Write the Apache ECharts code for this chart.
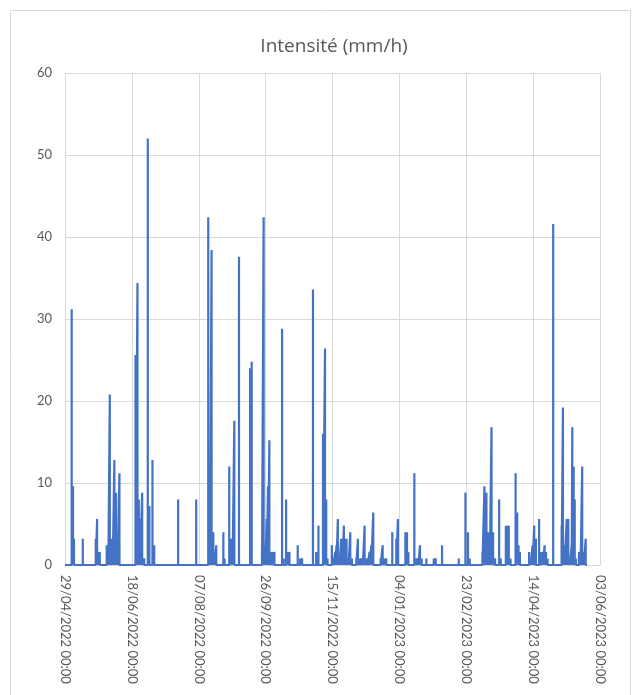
<!DOCTYPE html>
<html><head><meta charset="utf-8">
<script src="https://cdn.jsdelivr.net/npm/echarts/dist/echarts.min.js"></script>
<style>html,body{margin:0;padding:0;background:#fff}#c{width:637px;height:695px}</style>
</head><body><div id="c"></div>
<script>
// Chart title
const chartTitle = 'Intensité (mm/h)';
// Time origin of the x axis (29/04/2022 00:00); x values are days since this date
const originUTC = Date.UTC(2022, 3, 29);
const axisSpanDays = 400;      // 29/04/2022 -> 03/06/2023
const tickStepDays = 50;
const recordStartDay = 0;
const recordEndDay = 390.3;
// Rain events: day offset and intensity (mm/h)
const eventDay = [
  5.0, 6.0, 6.7, 13.3, 23.0, 24.0, 25.0, 26.0, 31.2, 32.4, 33.5, 34.5, 35.7, 36.9, 38.2, 39.5, 40.7,
  52.7, 54.2, 55.2, 56.2, 57.7, 59.2, 61.9, 63.1, 65.4, 66.7, 84.6, 98.1,
  107.1, 108.4, 109.6, 110.9, 111.8, 113.1, 118.4, 119.3, 122.8, 124.1, 125.3, 126.6, 130.1,
  138.4, 139.6, 147.3, 148.5, 149.8, 150.8, 151.8, 152.8, 154.1, 155.3, 156.6,
  162.3, 163.5, 165.3, 166.5, 167.8, 174.0, 175.8, 177.3,
  185.4, 187.8, 189.5, 192.9, 194.4, 195.3, 196.3, 199.5, 200.7, 202.0, 203.0, 204.0, 205.2,
  206.5, 207.5, 208.5, 209.5, 210.5, 212.0, 213.3, 214.5, 217.8, 219.0, 220.2, 221.7, 222.7,
  224.0, 225.2, 226.4, 227.7, 229.0, 230.5, 236.0, 237.5, 238.7, 240.2, 244.7, 247.7, 248.9,
  254.5, 255.7, 256.7, 261.2, 262.7, 264.2, 265.4, 266.7, 270.2, 275.7, 277.2, 281.9, 294.4,
  299.4, 301.3, 302.6, 312.1, 313.6, 315.1, 316.3, 317.6, 318.9, 320.1, 321.6, 324.6, 325.8,
  329.6, 330.6, 331.8, 333.1, 336.9, 338.1, 339.1, 340.1, 347.0, 348.3, 349.6, 350.8, 352.1,
  354.5, 355.8, 357.1, 358.6, 359.6, 360.8, 365.0, 371.3, 372.3, 373.6, 375.1, 376.3, 377.5,
  378.8, 379.3, 380.3, 381.1, 382.0, 384.3, 385.5, 386.7, 388.0, 389.3
];
const eventValue = [
  31.2, 9.6, 3.2, 3.2, 3.2, 5.6, 1.6, 1.6, 2.4, 2.4, 20.8, 3.2, 0.8, 12.8, 8.8, 3.2, 11.2,
  25.6, 34.4, 8.0, 5.6, 8.8, 0.8, 52.0, 7.2, 12.8, 2.4, 8.0, 8.0,
  42.4, 0.8, 38.4, 4.0, 1.6, 2.4, 4.0, 0.8, 12.0, 3.2, 0.8, 17.6, 37.6,
  24.0, 24.8, 2.4, 42.4, 2.4, 5.6, 9.6, 15.2, 1.6, 1.6, 1.6,
  28.8, 0.8, 8.0, 1.6, 1.6, 2.4, 0.8, 0.8,
  33.6, 1.6, 4.8, 16.0, 26.4, 8.0, 0.8, 2.4, 0.8, 1.6, 2.4, 5.6, 0.8,
  3.2, 3.2, 4.8, 3.2, 3.2, 0.8, 4.0, 0.8, 0.8, 3.2, 0.8, 0.8, 0.8,
  4.8, 0.8, 0.8, 1.6, 2.4, 6.4, 0.8, 2.4, 0.8, 0.8, 4.0, 3.2, 5.6,
  4.0, 4.0, 1.6, 11.2, 0.8, 0.8, 2.4, 0.8, 0.8, 0.8, 0.8, 2.4, 0.8,
  8.8, 4.0, 0.8, 1.6, 9.6, 8.8, 4.0, 4.0, 16.8, 4.0, 0.8, 8.0, 0.8,
  4.8, 4.8, 4.8, 0.8, 11.2, 6.4, 2.4, 1.6, 1.6, 0.8, 2.4, 4.8, 3.2,
  5.6, 1.6, 1.6, 2.4, 1.6, 0.8, 41.6, 4.8, 19.2, 2.4, 5.6, 5.6, 0.8,
  2.4, 16.8, 12.0, 8.0, 0.8, 1.6, 1.6, 12.0, 1.6, 3.2
];
const yMin = 0, yMax = 60, yStep = 10;

function pad(n){ return (n < 10 ? '0' : '') + n; }
function dayLabel(d){
  const t = new Date(originUTC + Math.round(d) * 86400000);
  return pad(t.getUTCDate()) + '/' + pad(t.getUTCMonth() + 1) + '/' + t.getUTCFullYear() + ' 00:00';
}

// Series points: each event is a sample surrounded by zero samples
const half = 0.02;
const seriesData = [[recordStartDay, 0]];
for (let i = 0; i < eventDay.length; i++) {
  seriesData.push([eventDay[i] - half, 0], [eventDay[i], eventValue[i]], [eventDay[i] + half, 0]);
}
seriesData.push([recordEndDay, 0]);

const chart = echarts.init(document.getElementById('c'), null, {renderer: 'canvas'});
chart.setOption({
  animation: false,
  backgroundColor: '#ffffff',
  title: {
    text: chartTitle, left: 329, top: 32, textAlign: 'center',
    textStyle: {fontFamily: 'Open Sans', fontWeight: 'normal', fontSize: 19, color: '#595959'}
  },
  grid: {left: 65, right: 37, top: 73, bottom: 130, containLabel: false},
  xAxis: {
    type: 'value', min: 0, max: axisSpanDays, interval: tickStepDays,
    axisLine: {show: true, lineStyle: {color: '#d9d9d9', width: 1}},
    axisTick: {show: false},
    splitLine: {show: true, lineStyle: {color: '#d9d9d9', width: 1}},
    axisLabel: {
      rotate: -90, margin: 10, color: '#595959', fontSize: 13, fontFamily: 'Lato',
      showMinLabel: true, showMaxLabel: true, formatter: v => dayLabel(v)
    }
  },
  yAxis: {
    type: 'value', min: yMin, max: yMax, interval: yStep,
    axisLine: {show: false}, axisTick: {show: false},
    splitLine: {show: true, lineStyle: {color: '#d9d9d9', width: 1}},
    axisLabel: {color: '#595959', fontSize: 13, fontFamily: 'Lato', margin: 13}
  },
  graphic: [{
    type: 'rect', left: 8, top: 8, shape: {width: 620, height: 700},
    style: {fill: 'none', stroke: '#d9d9d9', lineWidth: 1}, silent: true
  }],
  series: [{
    type: 'line', data: seriesData, showSymbol: false, symbol: 'none',
    lineStyle: {color: '#4472C4', width: 2.2, join: 'bevel'},
    itemStyle: {color: '#4472C4'}
  }]
});
</script></body></html>
